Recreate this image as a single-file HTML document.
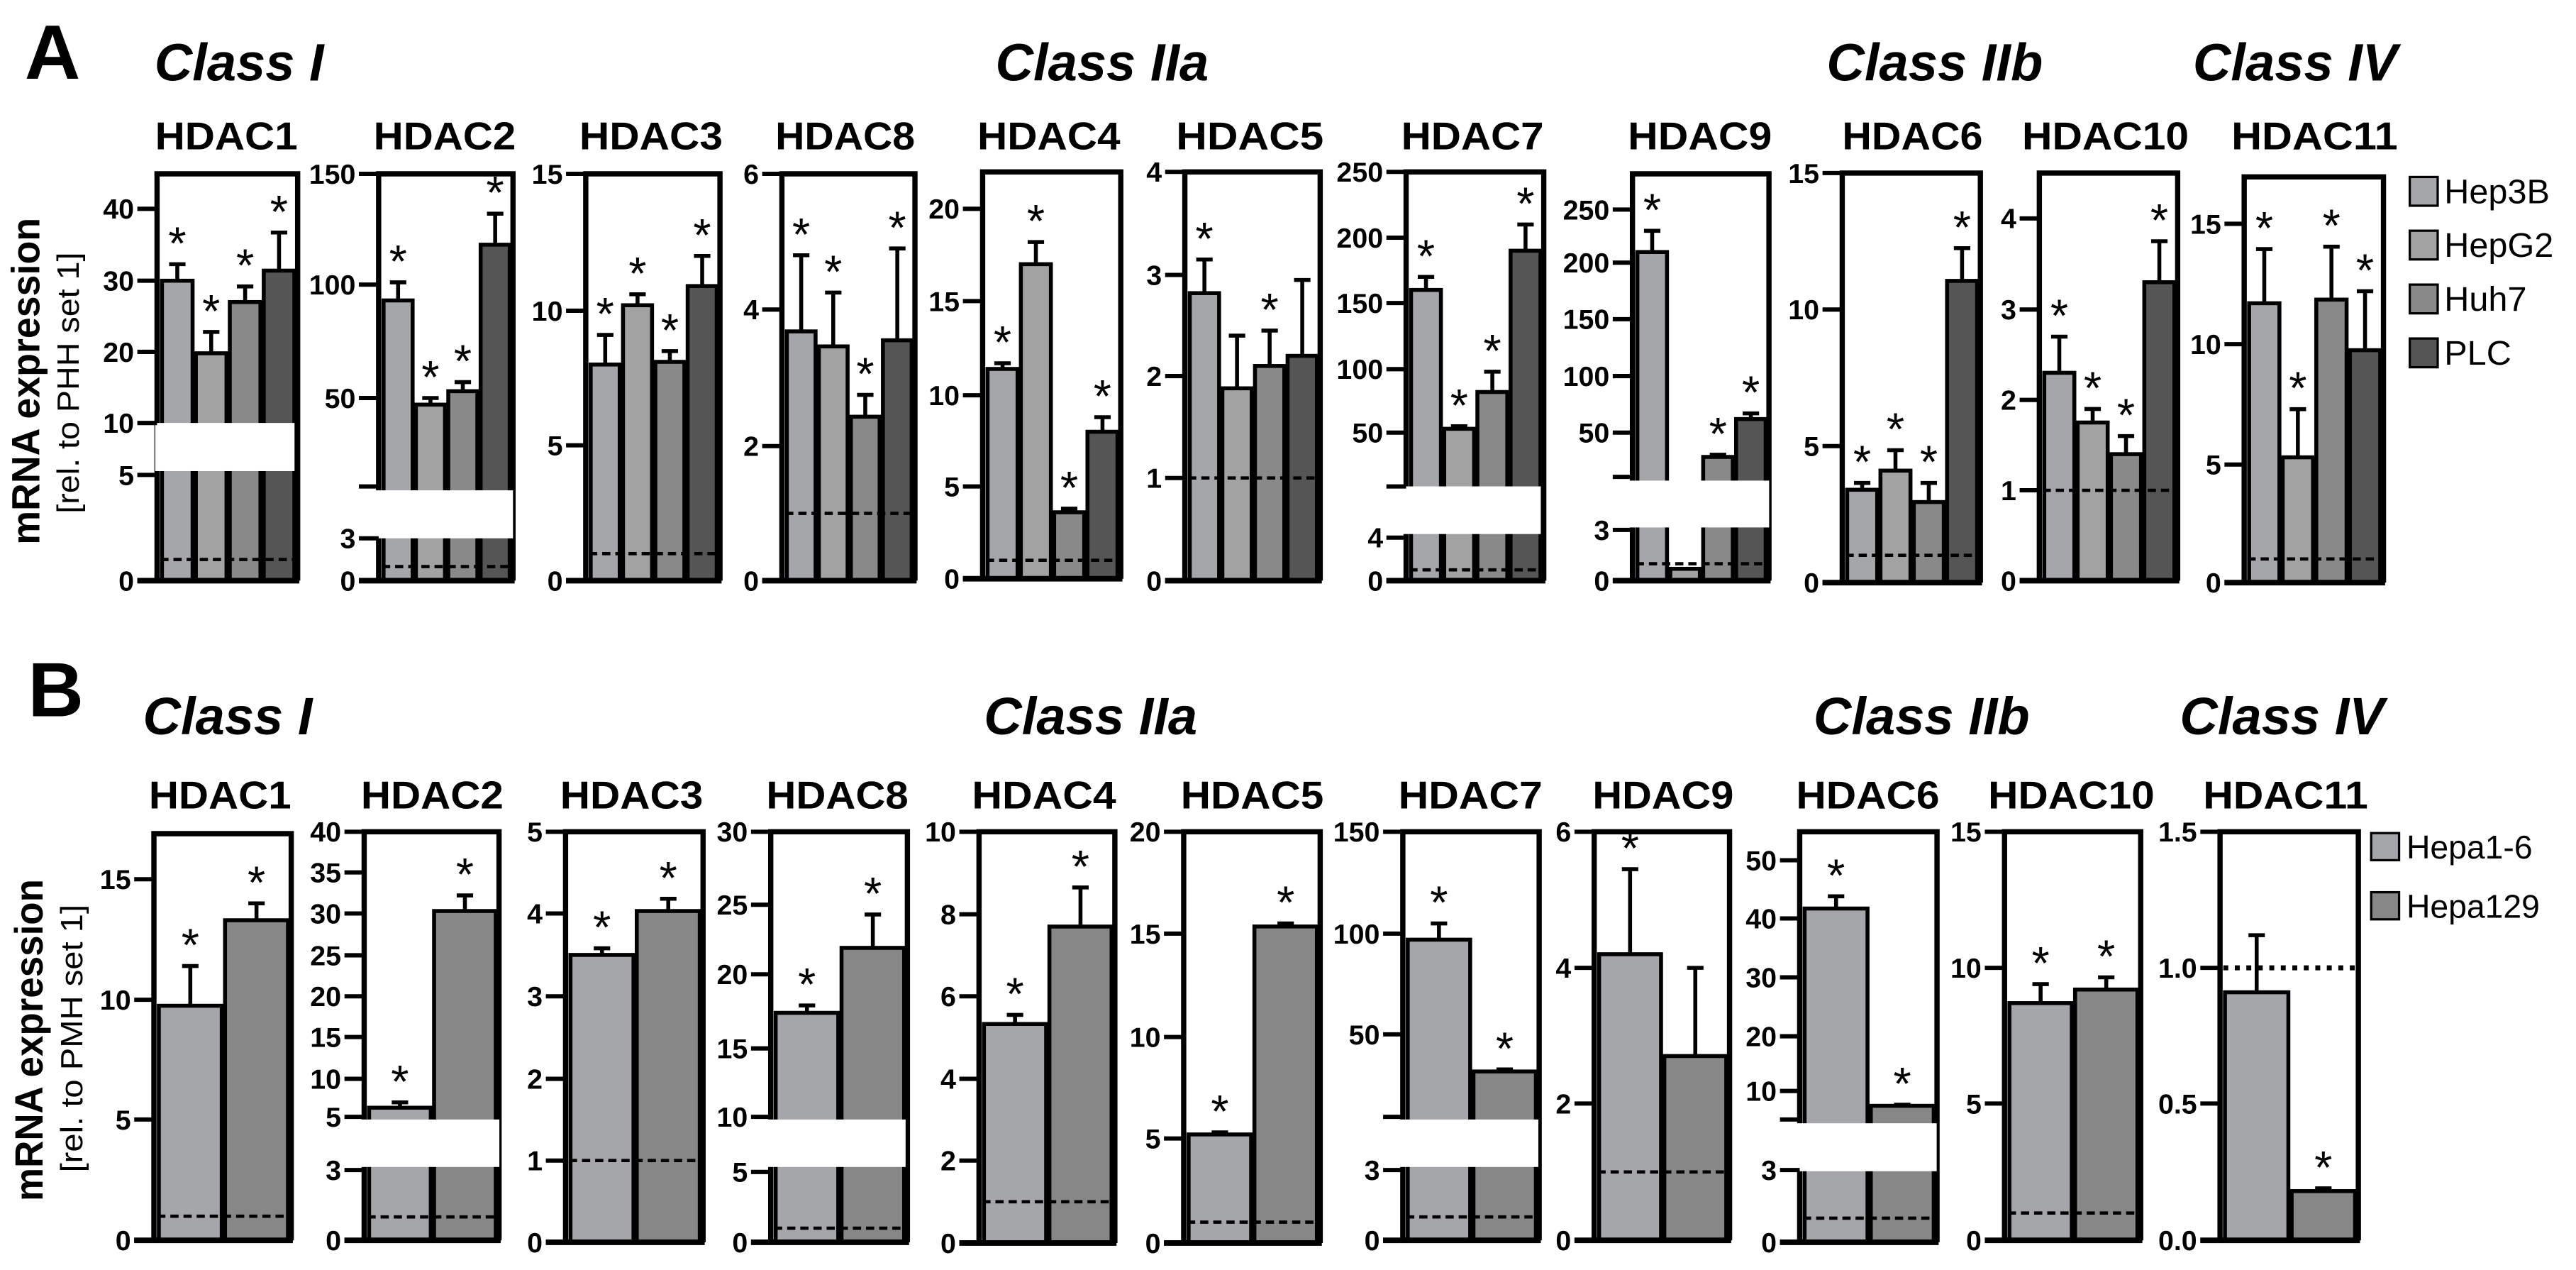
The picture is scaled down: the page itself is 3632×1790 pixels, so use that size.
<!DOCTYPE html>
<html><head><meta charset="utf-8"><style>
html,body{margin:0;padding:0;background:#fff;}
svg{display:block;}
text{font-family:"Liberation Sans",Arial,sans-serif;}
</style></head><body>
<svg id="fig" width="3632" height="1790" viewBox="0 0 1568.2 772.9" preserveAspectRatio="none" xmlns="http://www.w3.org/2000/svg">
<text x="15" y="48" font-size="47" font-weight="bold">A</text>
<text x="17" y="436" font-size="47" font-weight="bold">B</text>
<text x="94" y="49" font-size="32" font-weight="bold" font-style="italic">Class I</text>
<text x="606" y="49" font-size="32" font-weight="bold" font-style="italic">Class IIa</text>
<text x="1112" y="49" font-size="32" font-weight="bold" font-style="italic">Class IIb</text>
<text x="1335" y="49" font-size="32" font-weight="bold" font-style="italic">Class IV</text>
<text x="87" y="447" font-size="32" font-weight="bold" font-style="italic">Class I</text>
<text x="599" y="447" font-size="32" font-weight="bold" font-style="italic">Class IIa</text>
<text x="1104" y="447" font-size="32" font-weight="bold" font-style="italic">Class IIb</text>
<text x="1327" y="447" font-size="32" font-weight="bold" font-style="italic">Class IV</text>
<text transform="translate(24,232) rotate(-90)" text-anchor="middle" font-size="24" font-weight="bold" textLength="199" lengthAdjust="spacingAndGlyphs">mRNA expression</text>
<text transform="translate(48,233) rotate(-90)" text-anchor="middle" font-size="19" textLength="159" lengthAdjust="spacingAndGlyphs">[rel. to PHH set 1]</text>
<text transform="translate(26,633) rotate(-90)" text-anchor="middle" font-size="24" font-weight="bold" textLength="196" lengthAdjust="spacingAndGlyphs">mRNA expression</text>
<text transform="translate(50,632) rotate(-90)" text-anchor="middle" font-size="19" textLength="163" lengthAdjust="spacingAndGlyphs">[rel. to PMH set 1]</text>
<g id="charts"></g>
</svg>
<script>
// ---- Data: Panel A (human cell lines) ----
const aSeries = ['Hep3B','HepG2','Huh7','PLC'];
const aNames = ['HDAC1','HDAC2','HDAC3','HDAC8','HDAC4','HDAC5','HDAC7','HDAC9','HDAC6','HDAC10','HDAC11'];
const aValues = [[30,19.8,27,31.4],[93,47,53,118],[8,10.2,8.1,10.9],[3.68,3.46,2.43,3.55],[11.4,17,3.6,8],[2.82,1.88,2.1,2.2],[160,53,82,190],[210,0.7,28,62],[3.4,4.1,2.95,11.05],[2.3,1.75,1.4,3.3],[11.7,5.3,11.85,9.75]];
const aErrors = [[32.3,22.8,29.2,36.7],[101,50,57,132],[9.1,10.6,8.5,12],[4.8,4.25,2.75,4.9],[11.7,18.2,3.8,8.8],[3.15,2.4,2.45,2.95],[170,55,98,210],[230,0.7,30,67],[3.65,4.85,3.65,12.25],[2.7,1.9,1.6,3.75],[13.95,7.3,14.05,12.2]];
const aStars = [[1,1,1,1],[1,1,1,1],[1,1,1,1],[1,1,1,1],[1,1,1,1],[1,0,1,0],[1,1,1,1],[1,0,1,1],[1,1,1,1],[1,1,1,1],[1,1,1,1]];
const aTickVals = [[0,5,10,20,30,40],[0,3,10,50,100,150],[0,5,10,15],[0,2,4,6],[0,5,10,15,20],[0,1,2,3,4],[0,4,10,50,100,150,200,250],[0,3,10,50,100,150,200,250],[0,5,10,15],[0,1,2,3,4],[0,5,10,15]];
const aTickLabels = [['0','5','10','20','30','40'],['0','3','','50','100','150'],['0','5','10','15'],['0','2','4','6'],['0','5','10','15','20'],['0','1','2','3','4'],['0','4','','50','100','150','200','250'],['0','3','','50','100','150','200','250'],['0','5','10','15'],['0','1','2','3','4'],['0','5','10','15']];
// ---- Data: Panel B (mouse cell lines) ----
const bSeries = ['Hepa1-6','Hepa129'];
const bNames = ['HDAC1','HDAC2','HDAC3','HDAC8','HDAC4','HDAC5','HDAC7','HDAC9','HDAC6','HDAC10','HDAC11'];
const bValues = [[9.75,13.3],[6.2,30.3],[3.5,4.03],[17.4,21.9],[5.33,7.7],[5.2,15.35],[97,32],[4.2,2.7],[41.7,7.4],[8.7,9.2],[0.91,0.18]];
const bErrors = [[11.4,14],[6.9,32.2],[3.58,4.18],[17.9,24.3],[5.55,8.65],[5.3,15.5],[105,33],[5.45,4.0],[43.8,7.6],[9.4,9.65],[1.12,0.19]];
const bStars = [[1,1],[1,1],[1,1],[1,1],[1,1],[1,1],[1,1],[1,0],[1,1],[1,1],[0,1]];
const bTickVals = [[0,5,10,15],[0,3,5,10,15,20,25,30,35,40],[0,1,2,3,4,5],[0,5,10,15,20,25,30],[0,2,4,6,8,10],[0,5,10,15,20],[0,3,10,50,100,150],[0,2,4,6],[0,3,5,10,20,30,40,50],[0,5,10,15],[0,0.5,1,1.5]];
const bTickLabels = [['0','5','10','15'],['0','3','5','10','15','20','25','30','35','40'],['0','1','2','3','4','5'],['0','5','10','15','20','25','30'],['0','2','4','6','8','10'],['0','5','10','15','20'],['0','3','','50','100','150'],['0','2','4','6'],['0','3','','10','20','30','40','50'],['0','5','10','15'],['0.0','0.5','1.0','1.5']];
const refValue = 1;

// ---- Layout (axis calibration, not data) ----
const ay = z => z/4.273;
const by = z => 410.2 + z/4.323;
const aLayout = [
 {L:95.6,R:181.2,top:ay(452),ty:[1510,1235,1100,915,730,543].map(ay),box:[94.5,257.4,179.3,286.7],tx:[94.4,181.2]},
 {L:230.5,R:312.3,top:ay(452),ty:[1510,1400,1265,1035,740,452].map(ay),box:[204.3,298.4,312.3,327.6],tx:[227.4,314]},
 {L:356.6,R:438.3,top:ay(452),ty:[1510,1158,808,452].map(ay),box:null,tx:[352.7,440]},
 {L:476,R:557,top:ay(452),ty:[1510,1160,805,452].map(ay),box:null,tx:[472,557]},
 {L:598.2,R:682.3,top:ay(447),ty:[1505,1265,1028,783,543].map(ay),box:null,tx:[595,682]},
 {L:721.3,R:803.7,top:ay(447),ty:[1510,1243,978,715,447].map(ay),box:null,tx:[716,805.8]},
 {L:856,R:939.8,top:ay(447),ty:[1510,1398,1265,1125,960,788,618,447].map(ay),box:[845,296,938,325],tx:[853,939.8]},
 {L:993.8,R:1076.9,top:ay(452),ty:[1510,1378,1240,1125,978,830,683,545].map(ay),box:[982,292.5,1077,321],tx:[991,1078.7]},
 {L:1121.5,R:1205.6,top:ay(450),ty:[1515,1160,805,450].map(ay),box:null,tx:[1121.5,1207]},
 {L:1241.5,R:1325.7,top:ay(450),ty:[1510,1275,1040,805,568].map(ay),box:null,tx:[1231,1332.5]},
 {L:1366.2,R:1451,top:ay(460),ty:[1515,1208,895,582].map(ay),box:null,tx:[1358.4,1459.7]}
];
const bLayout = [
 {L:93.7,R:177.3,top:by(420),ty:[1490,1172,857,540].map(by),box:null,tx:[90.6,177.3]},
 {L:221.7,R:303.8,top:by(415),ty:[1490,1305,1165,1065,955,848,740,630,522,415].map(by),box:[204,681.3,304,710.2],tx:[219.7,306.5]},
 {L:344.3,R:428,top:by(415),ty:[1495,1280,1065,848,630,415].map(by),box:null,tx:[341,428]},
 {L:469.2,R:552.4,top:by(415),ty:[1495,1310,1165,985,790,607,415].map(by),box:[460.7,681.3,551.3,710.2],tx:[466.5,553]},
 {L:596,R:678.7,top:by(415),ty:[1497,1280,1065,848,632,415].map(by),box:null,tx:[591.7,679.5]},
 {L:720.6,R:803.7,top:by(415),ty:[1497,1222,955,683,415].map(by),box:null,tx:[718.8,805.8]},
 {L:854,R:937,top:by(415),ty:[1490,1305,1165,948,683,415].map(by),box:[840.6,681.3,936.5,710.2],tx:[851.3,939]},
 {L:970.5,R:1052.9,top:by(415),ty:[1490,1130,773,415].map(by),box:null,tx:[969.5,1055.4]},
 {L:1095.6,R:1179.2,top:by(415),ty:[1495,1305,1172,1097,953,798,643,490].map(by),box:[1085.6,683.6,1179,712.8],tx:[1093.4,1180.7]},
 {L:1220.3,R:1303.2,top:by(415),ty:[1490,1130,773,415].map(by),box:null,tx:[1210.3,1311.6]},
 {L:1351.5,R:1435.7,top:by(415),ty:[1490,1130,773,415].map(by),box:null,tx:[1341.2,1441.6]}
];
const aColors = ['#a5a6aa','#a2a2a2','#898989','#555555'];
const bColors = ['#a5a6aa','#878787'];

const NS = 'http://www.w3.org/2000/svg';
const root = document.getElementById('charts');
function mk(tag, attrs, parent){ const e=document.createElementNS(NS,tag); for(const k in attrs) e.setAttribute(k,attrs[k]); (parent||root).appendChild(e); return e; }

function yScale(vals, ys){
  return function(v){
    const n=vals.length;
    if(v<=vals[0]) return ys[0];
    for(let i=1;i<n;i++){ if(v<=vals[i]) return ys[i-1]+(v-vals[i-1])/(vals[i]-vals[i-1])*(ys[i]-ys[i-1]); }
    return ys[n-2]+(v-vals[n-2])/(vals[n-1]-vals[n-2])*(ys[n-1]-ys[n-2]);
  };
}

function drawPanel(row, idx, name, vals, errs, stars, tv, tl, lay, colors, titleY, dotted){
  const g = mk('g',{});
  
  
  const y = yScale(tv, lay.ty);
  const bottom = y(0);
  const t = mk('text',{x:(lay.tx[0]+lay.tx[1])/2,y:titleY,'text-anchor':'middle','font-size':23.5,'font-weight':'bold',textLength:(lay.tx[1]-lay.tx[0]),lengthAdjust:'spacingAndGlyphs'},g);
  t.textContent = name;
  
  
  const n = vals.length;
  const inner = lay.R - lay.L - 3;
  const slot = inner / n;
  for(let i=0;i<n;i++){
    const x0 = lay.L + 2 + i*slot + 1;
    const w = slot - 2;
    const yt = y(vals[i]);
    const r = mk('rect',{x:x0,y:yt,width:w,height:bottom-yt,fill:colors[i],stroke:'#000','stroke-width':2.4},g);
    
    
    const cx = x0 + w/2;
    const ye = y(errs[i]);
    const eb = mk('path',{d:'M'+cx+' '+yt+'V'+ye+'M'+(cx-5)+' '+ye+'H'+(cx+5),stroke:'#000','stroke-width':2.4,fill:'none'},g);
    
    
    if(stars[i]){
      const s = mk('text',{x:cx,y:ye-3,'text-anchor':'middle','font-size':28},g);
      s.textContent='*';
      
      
    }
  }
  const yr = y(refValue);
  const rl = mk('line',{x1:lay.L+2,x2:lay.R-1,y1:yr,y2:yr,stroke:'#000','stroke-width':dotted?3:2,'stroke-dasharray':dotted?'3 4':'5 3'},g);
  
  
  mk('path',{d:'M'+lay.L+' '+bottom+'V'+lay.top+'H'+lay.R+'V'+bottom,stroke:'#000','stroke-width':3.2,fill:'none'},g);
  mk('line',{x1:lay.L-12,x2:lay.R+1,y1:bottom,y2:bottom,stroke:'#000','stroke-width':3.4},g);
  if(lay.box){
    const b = mk('rect',{x:lay.box[0],y:lay.box[1],width:lay.box[2]-lay.box[0],height:lay.box[3]-lay.box[1],fill:'#fff'},g);
    
    
  }
  for(let k=0;k<tv.length;k++){
    const yy = y(tv[k]);
    mk('line',{x1:lay.L-12,x2:lay.L,y1:yy,y2:yy,stroke:'#000','stroke-width':2.6},g);
    if(tl[k]!==''){
      const lbl = mk('text',{x:lay.L-14,y:yy+6,'text-anchor':'end','font-size':17,'font-weight':'bold'},g);
      lbl.textContent = tl[k];
      
      
    }
  }
}

for(let i=0;i<aNames.length;i++) drawPanel('a',i,aNames[i],aValues[i],aErrors[i],aStars[i],aTickVals[i],aTickLabels[i],aLayout[i],aColors,91,false);
for(let i=0;i<bNames.length;i++) drawPanel('b',i,bNames[i],bValues[i],bErrors[i],bStars[i],bTickVals[i],bTickLabels[i],bLayout[i],bColors,492,i===10);

const aLegTop = [107.7,140.4,173.2,206];
aSeries.forEach((s,i)=>{
  const r = mk('rect',{x:1467,y:aLegTop[i],width:17,height:17.5,fill:aColors[i],stroke:'#000','stroke-width':1.4});
  
  
  const t = mk('text',{x:1488,y:aLegTop[i]+16,'font-size':21});
  t.textContent = s;
  
  
});
const bLegTop = [507,543];
bSeries.forEach((s,i)=>{
  const r = mk('rect',{x:1443.5,y:bLegTop[i],width:17,height:16.5,fill:bColors[i],stroke:'#000','stroke-width':1.4});
  
  
  const t = mk('text',{x:1465,y:bLegTop[i]+15.5,'font-size':20});
  t.textContent = s;
  
  
});
</script>
</body></html>
